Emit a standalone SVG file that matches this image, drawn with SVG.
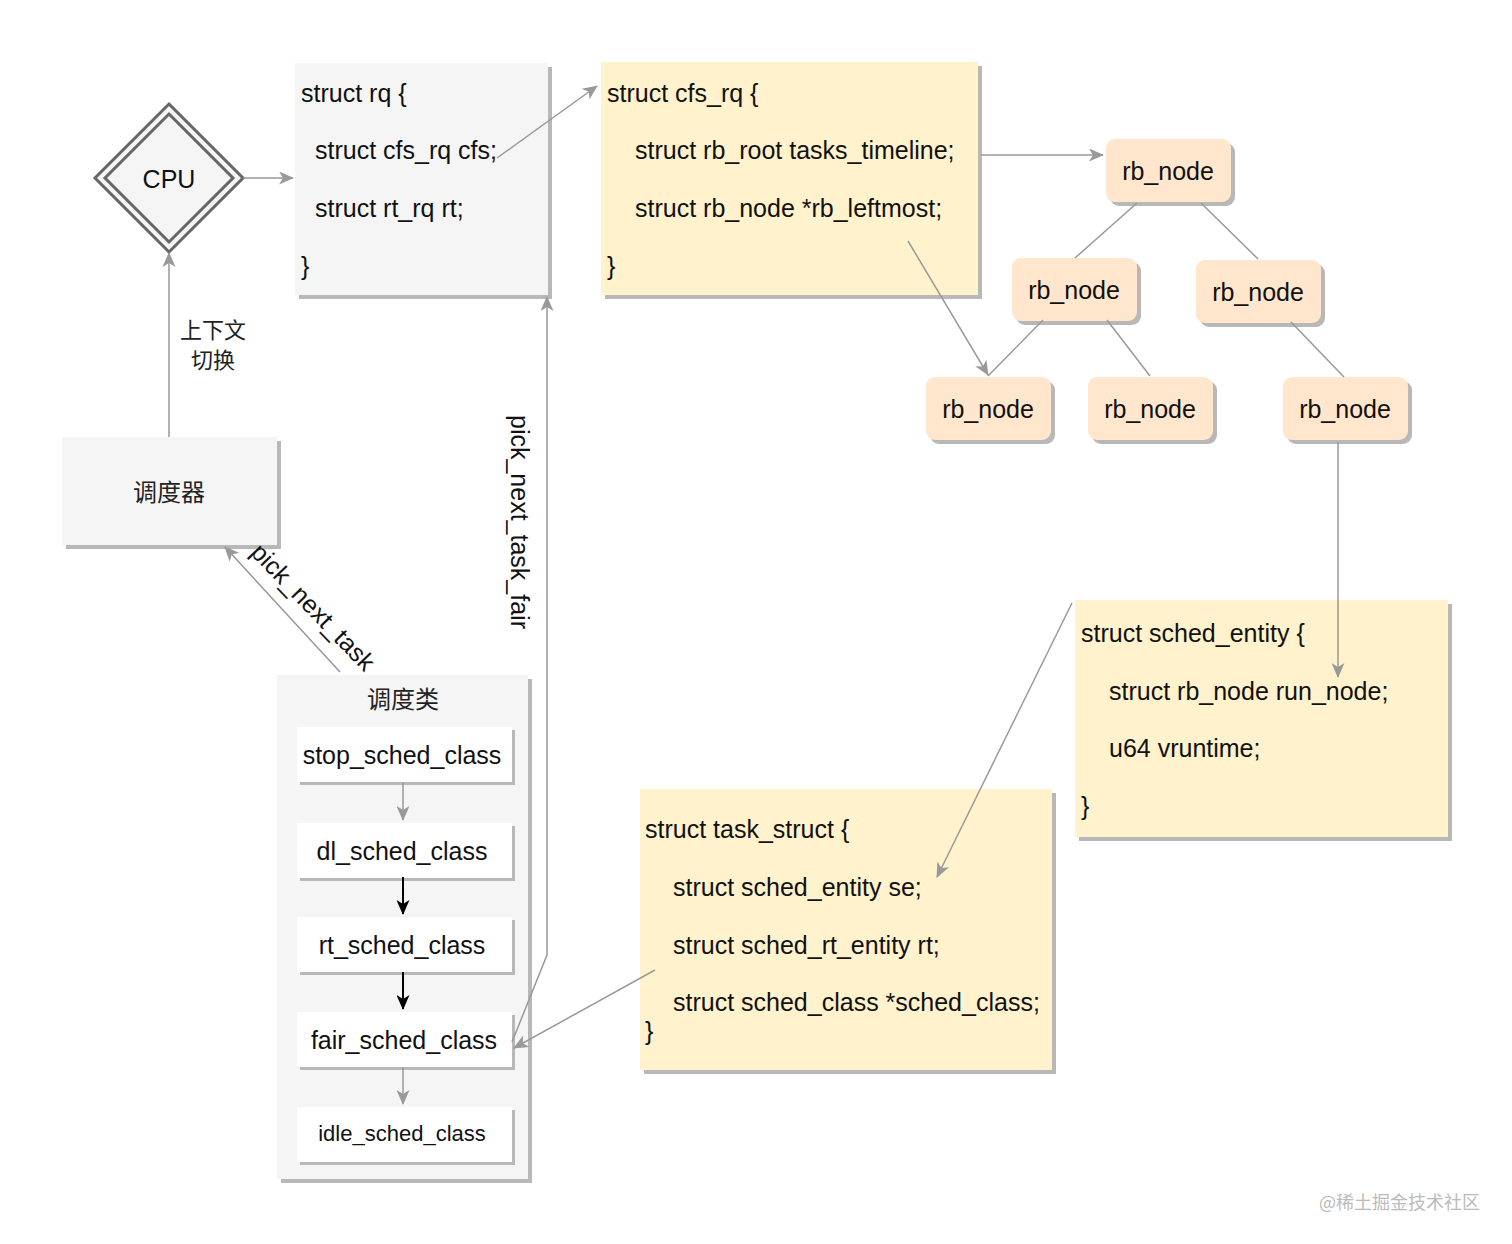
<svg xmlns="http://www.w3.org/2000/svg" width="1512" height="1244" viewBox="0 0 1512 1244">
<defs>
<marker id="ag" markerUnits="userSpaceOnUse" markerWidth="15" markerHeight="13" viewBox="0 0 15 13" refX="14" refY="6.5" orient="auto">
<path d="M0,0 L15,6.5 L0,13 L4,6.5 z" fill="#999999"/>
</marker>
<marker id="ab" markerUnits="userSpaceOnUse" markerWidth="15" markerHeight="13" viewBox="0 0 15 13" refX="14" refY="6.5" orient="auto">
<path d="M0,0 L15,6.5 L0,13 L4,6.5 z" fill="#000000"/>
</marker>
</defs>
<style>
text{font-family:"Liberation Sans",Arial,"Noto Sans CJK SC",sans-serif;font-size:25px;fill:#111}
.cjk{font-family:"Noto Sans CJK SC","Liberation Sans",sans-serif;font-size:24px;fill:#222}
.sh{fill:#b8b8b8}
.gray{fill:#f5f5f5}
.yel{fill:#fff2cc}
.org{fill:#ffe6cc}
.wh{fill:#ffffff}
.c{text-anchor:middle}
.ln{fill:none;stroke:#999999;stroke-width:1.5}
.lnb{fill:none;stroke:#000000;stroke-width:2}
</style>
<rect width="1512" height="1244" fill="#ffffff"/>

<g id="cpu">
<polygon points="169,104 243,178 169,252 95,178" fill="#f5f5f5" stroke="#666666" stroke-width="3"/>
<polygon points="169,114 233,178 169,242 105,178" fill="none" stroke="#666666" stroke-width="3"/>
<text x="169" y="188" class="c" fill="#222">CPU</text>
</g>

<g id="rq">
<rect class="sh" x="299" y="67" width="253" height="232"/>
<rect class="gray" x="295" y="63" width="253" height="232"/>
<text x="301" y="102">struct rq {</text>
<text x="315" y="159">struct cfs_rq cfs;</text>
<text x="315" y="217">struct rt_rq rt;</text>
<text x="301" y="275">}</text>
</g>

<g id="cfs_rq">
<rect class="sh" x="605" y="66" width="377" height="233"/>
<rect class="yel" x="601" y="62" width="377" height="233"/>
<text x="607" y="102">struct cfs_rq {</text>
<text x="635" y="159">struct rb_root tasks_timeline;</text>
<text x="635" y="217">struct rb_node *rb_leftmost;</text>
<text x="607" y="275">}</text>
</g>

<g id="rb1">
<rect class="sh" x="1110" y="143" width="125" height="63" rx="9"/>
<rect class="org" x="1106" y="139" width="125" height="63" rx="9"/>
<text x="1168" y="180" class="c">rb_node</text>
</g>
<g id="rb2">
<rect class="sh" x="1016" y="262" width="125" height="63" rx="9"/>
<rect class="org" x="1012" y="258" width="125" height="63" rx="9"/>
<text x="1074" y="299" class="c">rb_node</text>
</g>
<g id="rb3">
<rect class="sh" x="1200" y="264" width="125" height="63" rx="9"/>
<rect class="org" x="1196" y="260" width="125" height="63" rx="9"/>
<text x="1258" y="301" class="c">rb_node</text>
</g>
<g id="rb4">
<rect class="sh" x="930" y="381" width="125" height="63" rx="9"/>
<rect class="org" x="926" y="377" width="125" height="63" rx="9"/>
<text x="988" y="418" class="c">rb_node</text>
</g>
<g id="rb5">
<rect class="sh" x="1092" y="381" width="125" height="63" rx="9"/>
<rect class="org" x="1088" y="377" width="125" height="63" rx="9"/>
<text x="1150" y="418" class="c">rb_node</text>
</g>
<g id="rb6">
<rect class="sh" x="1287" y="381" width="125" height="63" rx="9"/>
<rect class="org" x="1283" y="377" width="125" height="63" rx="9"/>
<text x="1345" y="418" class="c">rb_node</text>
</g>

<g id="scheduler">
<rect class="sh" x="66" y="441" width="215" height="108"/>
<rect class="gray" x="62" y="437" width="215" height="108"/>
<text x="169" y="501" class="cjk c">调度器</text>
</g>

<g id="sched_classes">
<rect class="sh" x="281" y="679" width="251" height="504"/>
<rect class="gray" x="277" y="675" width="251" height="504"/>
<text x="403" y="708" class="cjk c">调度类</text>
</g>
<g id="stop">
<rect class="sh" x="300" y="730" width="215" height="55"/>
<rect class="wh" x="297" y="727" width="215" height="55"/>
<text x="402" y="764" class="c">stop_sched_class</text>
</g>
<g id="dl">
<rect class="sh" x="300" y="826" width="215" height="55"/>
<rect class="wh" x="297" y="823" width="215" height="55"/>
<text x="402" y="860" class="c">dl_sched_class</text>
</g>
<g id="rt">
<rect class="sh" x="300" y="920" width="215" height="55"/>
<rect class="wh" x="297" y="917" width="215" height="55"/>
<text x="402" y="954" class="c">rt_sched_class</text>
</g>
<g id="fair">
<rect class="sh" x="300" y="1015" width="215" height="55"/>
<rect class="wh" x="297" y="1012" width="215" height="55"/>
<text x="404" y="1049" class="c">fair_sched_class</text>
</g>
<g id="idle">
<rect class="sh" x="300" y="1110" width="215" height="55"/>
<rect class="wh" x="297" y="1107" width="215" height="55"/>
<text x="402" y="1141" class="c" style="font-size:22px">idle_sched_class</text>
</g>

<g id="sched_entity">
<rect class="sh" x="1079" y="604" width="373" height="237"/>
<rect class="yel" x="1075" y="600" width="373" height="237"/>
<text x="1081" y="642">struct sched_entity {</text>
<text x="1109" y="700">struct rb_node run_node;</text>
<text x="1109" y="757">u64 vruntime;</text>
<text x="1081" y="815">}</text>
</g>

<g id="task_struct">
<rect class="sh" x="644" y="793" width="412" height="281"/>
<rect class="yel" x="640" y="789" width="412" height="281"/>
<text x="645" y="838">struct task_struct {</text>
<text x="673" y="896">struct sched_entity se;</text>
<text x="673" y="954">struct sched_rt_entity rt;</text>
<text x="673" y="1011">struct sched_class *sched_class;</text>
<text x="645" y="1040">}</text>
</g>

<g id="connectors">
<line class="ln" x1="243" y1="178" x2="293" y2="178" marker-end="url(#ag)"/>
<line class="ln" x1="169" y1="437" x2="169" y2="253" marker-end="url(#ag)"/>
<line class="ln" x1="497" y1="158" x2="597" y2="86" marker-end="url(#ag)"/>
<line class="ln" x1="981" y1="155" x2="1103" y2="155" marker-end="url(#ag)"/>
<line class="ln" x1="908" y1="241" x2="988" y2="375" marker-end="url(#ag)"/>
<line class="ln" x1="1137" y1="203" x2="1075" y2="258"/>
<line class="ln" x1="1201" y1="203" x2="1258" y2="259"/>
<line class="ln" x1="1043" y1="320" x2="988" y2="376"/>
<line class="ln" x1="1107" y1="320" x2="1150" y2="376"/>
<line class="ln" x1="1291" y1="322" x2="1344" y2="377"/>
<line class="ln" x1="1338" y1="442" x2="1338" y2="677" marker-end="url(#ag)"/>
<line class="ln" x1="1072" y1="603" x2="937" y2="877" marker-end="url(#ag)"/>
<line class="ln" x1="655" y1="970" x2="514" y2="1048" marker-end="url(#ag)"/>
<polyline class="ln" points="512,1042 547,955 547,297" marker-end="url(#ag)"/>
<line class="ln" x1="340" y1="672" x2="225" y2="547" marker-end="url(#ag)"/>
<line class="ln" x1="403" y1="782" x2="403" y2="820" marker-end="url(#ag)"/>
<line class="lnb" x1="403" y1="877" x2="403" y2="914" marker-end="url(#ab)"/>
<line class="lnb" x1="403" y1="972" x2="403" y2="1009" marker-end="url(#ab)"/>
<line class="ln" x1="403" y1="1067" x2="403" y2="1104" marker-end="url(#ag)"/>
<text x="213" y="338" class="cjk c" style="font-size:22px">上下文</text>
<text x="213" y="368" class="cjk c" style="font-size:22px">切换</text>
<text transform="translate(307,613) rotate(46)" class="c">pick_next_task</text>
<text transform="translate(511,522) rotate(90)" class="c">pick_next_task_fair</text>
</g>

<text x="1480" y="1209" class="cjk" style="font-size:18px;fill:#bbbbbb;text-anchor:end">@稀土掘金技术社区</text>
</svg>
